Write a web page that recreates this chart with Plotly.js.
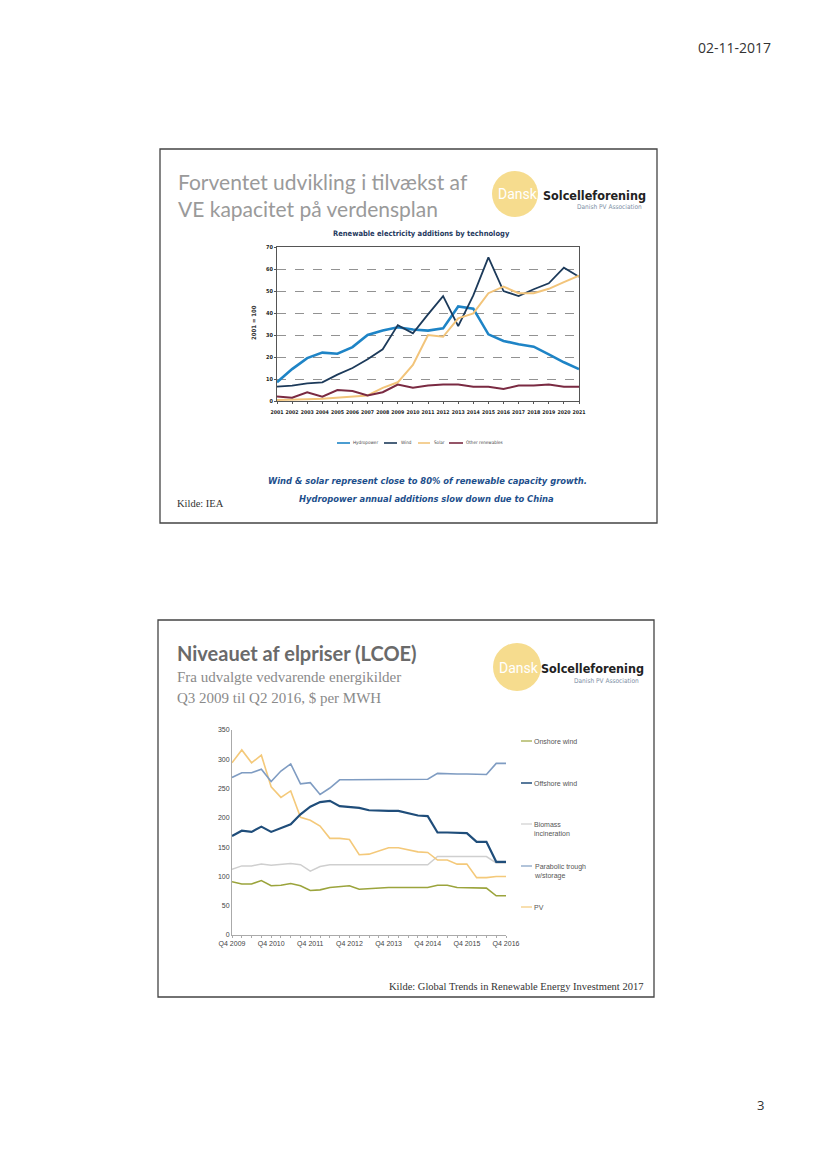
<!DOCTYPE html>
<html>
<head>
<meta charset="utf-8">
<script src="https://cdn.plot.ly/plotly-3.0.1.min.js"></script>
<style>html,body{margin:0;padding:0;background:#fff;}#chart{width:828px;height:1169px;}</style>
</head>
<body>
<div id="chart"></div>
<script>
// ---------- Chart 1 data: Renewable electricity additions by technology ----------
const years = [2001,2002,2003,2004,2005,2006,2007,2008,2009,2010,2011,2012,2013,2014,2015,2016,2017,2018,2019,2020,2021];
const yearLabels = ["2001","2002","2003","2004","2005","2006","2007","2008","2009","2010","2011","2012","2013","2014","2015","2016","2017","2018","2019","2020","2021"];
const hydropower = [8.5,14.5,19.5,22,21.5,24.5,30,32,33.5,32.5,32,33,43,42,30.3,27.3,25.8,24.7,21.2,17.6,14.5];
const wind = [6.5,7,8,8.5,12,15,19,23.5,34.5,30.8,39.4,47.7,34,48,65.3,50,47.7,50.8,53.5,60.6,56.5];
const solar = [0.5,0.5,0.8,1,1.5,1.8,2.5,6,8.5,16.4,30,29.2,37.6,39.8,49,52,49,49,51,54,57];
const otherRenewables = [2,1.5,4,2,5,4.5,2.5,4,7.5,6,7,7.5,7.5,6.5,6.5,5.5,7,7,7.5,6.5,6.5];

// ---------- Chart 2 data: LCOE, $ per MWh ----------
const quarters = ["Q4 2009","Q1 2010","Q2 2010","Q3 2010","Q4 2010","Q1 2011","Q2 2011","Q3 2011","Q4 2011","Q1 2012","Q2 2012","Q3 2012","Q4 2012","Q1 2013","Q2 2013","Q3 2013","Q4 2013","Q1 2014","Q2 2014","Q3 2014","Q4 2014","Q1 2015","Q2 2015","Q3 2015","Q4 2015","Q1 2016","Q2 2016","Q3 2016","Q4 2016"];
const quarterTickLabels = ["Q4 2009","","","","Q4 2010","","","","Q4 2011","","","","Q4 2012","","","","Q4 2013","","","","Q4 2014","","","","Q4 2015","","","","Q4 2016"];
const onshoreWind = [91,87,87,93,84,85,88,84,76,77,81,83,84,78,79,81,81,81,81,81,81,85,85,81,81,81,80,67,67];
const offshoreWind = [169,178,176,185,176,183,189,206,219,227,229,220,219,217,213,212,212,212,208,204,203,175,175,174,174,159,159,125,125];
const biomass = [112,118,118,121,119,121,122,120,109,117,120,120,120,120,120,120,120,120,120,120,120,134,134,134,134,134,134,123,123];
const parabolicTrough = [269,277,277,283,262,280,292,258,260,240,251,265,265,265,265,265,266,266,266,266,266,276,275,275,275,275,274,293,293];
const pv = [294,316,294,307,253,235,246,201,196,186,165,165,163,137,138,144,149,149,145,142,141,128,128,121,121,98,98,100,100];

const W = 828, H = 1169;
const X = px => px / W;
const Y = py => 1 - py / H;

const NARROW = "Liberation Sans Narrow, DejaVu Sans Condensed, Arial Narrow, sans-serif";
const SANS = "Liberation Sans, Arial, sans-serif";
const SERIF = "Liberation Serif, Times New Roman, serif";
const TITLE = "Lato, Open Sans, sans-serif";

const c1 = {hydro:'#1e84c6', wind:'#1c3a5a', solar:'#f2c47a', other:'#7a2a42'};
const c2 = {on:'#9ba43c', off:'#1f4d7a', bio:'#cfcfcf', par:'#7f9cc2', pv:'#f4c97a'};

const traces = [
  {x: years, y: hydropower, name:'Hydropower', mode:'lines', line:{color:c1.hydro, width:2.6}, xaxis:'x', yaxis:'y'},
  {x: years, y: wind, name:'Wind', mode:'lines', line:{color:c1.wind, width:1.8}, xaxis:'x', yaxis:'y'},
  {x: years, y: solar, name:'Solar', mode:'lines', line:{color:c1.solar, width:2}, xaxis:'x', yaxis:'y'},
  {x: years, y: otherRenewables, name:'Other renewables', mode:'lines', line:{color:c1.other, width:2}, xaxis:'x', yaxis:'y'},
  {x: quarters, y: biomass, name:'Biomass incineration', mode:'lines', line:{color:c2.bio, width:1.5}, xaxis:'x2', yaxis:'y2'},
  {x: quarters, y: onshoreWind, name:'Onshore wind', mode:'lines', line:{color:c2.on, width:1.6}, xaxis:'x2', yaxis:'y2'},
  {x: quarters, y: pv, name:'PV', mode:'lines', line:{color:c2.pv, width:1.6}, xaxis:'x2', yaxis:'y2'},
  {x: quarters, y: parabolicTrough, name:'Parabolic trough w/storage', mode:'lines', line:{color:c2.par, width:1.6}, xaxis:'x2', yaxis:'y2'},
  {x: quarters, y: offshoreWind, name:'Offshore wind', mode:'lines', line:{color:c2.off, width:2.2}, xaxis:'x2', yaxis:'y2'}
];

const annotations = [];
function ann(text, px, py, font, xanchor, extra) {
  annotations.push(Object.assign({text: text, xref:'paper', yref:'paper', x: X(px), y: Y(py),
    xanchor: xanchor || 'left', yanchor:'middle', showarrow:false, font: font}, extra || {}));
}
const shapes = [];
function line(x0, y0, x1, y1, color, width, dash) {
  shapes.push({type:'line', xref:'paper', yref:'paper', x0:X(x0), y0:Y(y0), x1:X(x1), y1:Y(y1),
    line:{color:color, width:width, dash: dash || 'solid'}});
}
function circle(cx, cy, r, color) {
  shapes.push({type:'circle', xref:'paper', yref:'paper', x0:X(cx-r), x1:X(cx+r), y0:Y(cy+r), y1:Y(cy-r),
    fillcolor: color, line:{width:0}, layer:'below'});
}

// Page
ann('02-11-2017', 773, 47, {family:'Open Sans, sans-serif', size:14, color:'#333'}, 'right');
ann('3', 766, 1105, {family:'Open Sans, sans-serif', size:13, color:'#333'}, 'right');

// Slide frames
shapes.push({type:'rect', xref:'paper', yref:'paper', x0:X(160), x1:X(657), y0:Y(523), y1:Y(149), line:{color:'#444', width:1.3}, layer:'below'});
shapes.push({type:'rect', xref:'paper', yref:'paper', x0:X(158), x1:X(654), y0:Y(997), y1:Y(620), line:{color:'#444', width:1.3}, layer:'below'});

// Slide 1 title
ann('Forventet udvikling i tilvækst af', 176, 181, {family:TITLE, size:21, color:'#9a9a9a'});
ann('VE kapacitet på verdensplan', 176, 208, {family:TITLE, size:21, color:'#9a9a9a'});
// Logo 1
circle(515, 194, 23, '#f6dc8e');
ann('Dansk', 518, 194, {family:'Roboto, sans-serif', size:14, color:'#ffffff'}, 'center');
ann('<b>Solcelleforening</b>', 541, 195, {family:NARROW, size:12.5, color:'#222'});
ann('Danish PV Association', 644, 207, {family:NARROW, size:6.5, color:'#7e8fa6'}, 'right');

// Chart 1 title and labels
ann('<b>Renewable electricity additions by technology</b>', 421, 233, {family:NARROW, size:7.5, color:'#1f3a60'}, 'center');
ann('<b>2001 = 100</b>', 253, 323, {family:NARROW, size:6, color:'#333'}, 'center', {textangle:-90});
// Chart 1 legend
const leg1 = [[337,350,351,'Hydropower',c1.hydro],[384,397,399,'Wind',c1.wind],[418,430,432,'Solar',c1.solar],[449,463,464,'Other renewables',c1.other]];
leg1.forEach(l => { line(l[0], 443, l[1], 443, l[4], 1.6); ann(l[3], l[2], 443, {family:NARROW, size:4.6, color:'#444'}); });
// captions
ann('<b><i>Wind & solar represent close to 80% of renewable capacity growth.</i></b>', 428, 480, {family:NARROW, size:9.3, color:'#1d4f8c'}, 'center');
ann('<b><i>Hydropower annual additions slow down due to China</i></b>', 427, 498, {family:NARROW, size:9.3, color:'#1d4f8c'}, 'center');
ann('Kilde: IEA', 175, 503, {family:SERIF, size:10.5, color:'#333'});

// Slide 2 title
ann('<b>Niveauet af elpriser (LCOE)</b>', 175, 653, {family:TITLE, size:20, color:'#6a6a6a'});
ann('Fra udvalgte vedvarende energikilder', 175, 677, {family:SERIF, size:15, color:'#8a8a8a'});
ann('Q3 2009 til Q2 2016, $ per MWH', 175, 698, {family:SERIF, size:15, color:'#8a8a8a'});
// Logo 2
circle(517, 667, 24, '#f6dc8e');
ann('Dansk', 519, 668, {family:'Roboto, sans-serif', size:14, color:'#ffffff'}, 'center');
ann('<b>Solcelleforening</b>', 539, 668, {family:NARROW, size:12.5, color:'#222'});
ann('Danish PV Association', 641, 681, {family:NARROW, size:6.5, color:'#7e8fa6'}, 'right');

// Chart 2 legend
const legFont = {family:SANS, size:7, color:'#555'};
line(521, 741, 532, 741, c2.on, 1.2); ann('Onshore wind', 532, 741, legFont);
line(521, 783, 532, 783, c2.off, 1.5); ann('Offshore wind', 532, 783, legFont);
line(521, 824, 532, 824, c2.bio, 1.2); ann('Biomass<br>incineration', 532, 829, legFont, 'left', {align:'left'});
line(521, 866, 532, 866, c2.par, 1.2); ann('Parabolic trough<br>w/storage', 532, 871, legFont, 'left', {align:'left'});
line(521, 907, 532, 907, c2.pv, 1.2); ann('PV', 532, 907, legFont);

ann('Kilde: Global Trends in Renewable Energy Investment 2017', 645, 986, {family:SERIF, size:10.5, color:'#333'}, 'right');

const layout = {
  width: W, height: H, margin:{l:0, r:0, t:0, b:0},
  paper_bgcolor:'#ffffff', plot_bgcolor:'rgba(0,0,0,0)',
  showlegend:false,
  xaxis:{domain:[X(277), X(579)], anchor:'y', range:[2001, 2021], tickvals: years, ticktext: yearLabels,
    showgrid:false, zeroline:false, showline:true, mirror:true, linecolor:'#555', linewidth:1,
    ticks:'outside', ticklen:2, tickcolor:'#555', ticklabelstandoff:4,
    tickfont:{family:NARROW, size:5.2, color:'#222', weight:'bold'}, tickangle:0},
  yaxis:{domain:[Y(401), Y(247)], anchor:'x', range:[0, 70], dtick:10,
    showgrid:true, gridcolor:'#777', gridwidth:0.8, griddash:'dash', zeroline:false,
    showline:true, mirror:true, linecolor:'#555', linewidth:1, ticks:'outside', ticklen:2, tickcolor:'#555',
    tickfont:{family:NARROW, size:5.5, color:'#222', weight:'bold'}},
  xaxis2:{domain:[X(232), X(506)], anchor:'y2', type:'category', range:[0, 28], tickvals: quarters, ticktext: quarterTickLabels,
    showgrid:false, zeroline:false, showline:true, linecolor:'#aaa', linewidth:1,
    ticks:'outside', ticklen:2, tickcolor:'#aaa', tickangle:0,
    tickfont:{family:SANS, size:7, color:'#444'}},
  yaxis2:{domain:[Y(935), Y(730)], anchor:'x2', range:[0, 350], dtick:50,
    showgrid:false, zeroline:false, showline:true, linecolor:'#aaa', linewidth:1,
    ticks:'', tickfont:{family:SANS, size:7, color:'#444'}},
  annotations: annotations,
  shapes: shapes
};

Plotly.newPlot('chart', traces, layout, {displayModeBar:false, staticPlot:true});
</script>
</body>
</html>
